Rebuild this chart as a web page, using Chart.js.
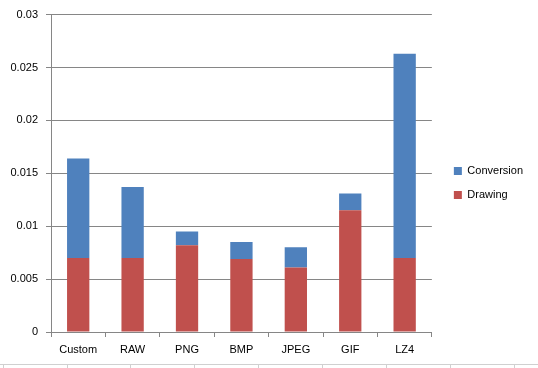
<!DOCTYPE html>
<html>
<head>
<meta charset="utf-8">
<script src="https://cdn.jsdelivr.net/npm/chart.js@4"></script>
<style>
html,body{margin:0;padding:0;background:#fff;}
#wrap{position:relative;width:538px;height:368px;}
</style>
</head>
<body>
<div id="wrap"><canvas id="c" width="538" height="368"></canvas></div>
<script>
const categories = ["Custom", "RAW", "PNG", "BMP", "JPEG", "GIF", "LZ4"];
const drawing = [0.0070, 0.0070, 0.0082, 0.0069, 0.0061, 0.0115, 0.0070];
const conversion = [0.0094, 0.0067, 0.0013, 0.0016, 0.0019, 0.0016, 0.0193];
const seriesNames = ["Drawing", "Conversion"];
const yTicks = [0, 0.005, 0.01, 0.015, 0.02, 0.025, 0.03];

const FONT = {family: "'Liberation Sans', Arial, sans-serif", size: 11};
const GRID = '#868686';

const sheetLines = {
  id: 'sheetLines',
  beforeDraw(chart) {
    const ctx = chart.ctx;
    ctx.save();
    ctx.strokeStyle = '#d0d0d0';
    ctx.lineWidth = 1;
    ctx.beginPath();
    ctx.moveTo(0, 364.5); ctx.lineTo(538, 364.5);
    [3, 67, 130, 194, 258, 322, 386, 450, 514].forEach(x => {
      ctx.moveTo(x + 0.5, 364.5); ctx.lineTo(x + 0.5, 368);
    });
    ctx.stroke();
    ctx.restore();
  }
};

const legendShift = {
  id: 'legendShift',
  afterLayout(chart) {
    const l = chart.legend;
    l.left += 9; l.right += 9;
    l.top -= 8; l.bottom -= 8;
  }
};

new Chart(document.getElementById('c'), {
  type: 'bar',
  data: {
    labels: categories,
    datasets: [
      {label: seriesNames[0], data: drawing, backgroundColor: '#C0504D'},
      {label: seriesNames[1], data: conversion, backgroundColor: '#4F81BD'}
    ]
  },
  options: {
    responsive: false,
    animation: false,
    barPercentage: 0.41,
    categoryPercentage: 1,
    layout: {padding: {top: 14, right: 14, bottom: 0, left: 0}},
    plugins: {
      tooltip: {enabled: false},
      legend: {
        position: 'right',
        reverse: true,
        labels: {
          font: FONT, color: '#000', boxWidth: 8, boxHeight: 8, padding: 13
        }
      }
    },
    scales: {
      x: {
        stacked: true,
        grid: {offset: true, drawOnChartArea: false, color: GRID, tickLength: 5},
        border: {color: GRID},
        ticks: {font: FONT, color: '#000', padding: 6, maxRotation: 0},
        afterFit(s) { s.height = 36; }
      },
      y: {
        stacked: true,
        min: 0, max: 0.03,
        afterBuildTicks(s) { s.ticks = yTicks.map(v => ({value: v})); },
        grid: {color: GRID, tickLength: 5},
        border: {color: GRID},
        ticks: {font: FONT, color: '#000', padding: 8, callback: v => String(v)},
        afterFit(s) { s.width = 51; }
      }
    }
  },
  plugins: [sheetLines, legendShift]
});
</script>
</body>
</html>
